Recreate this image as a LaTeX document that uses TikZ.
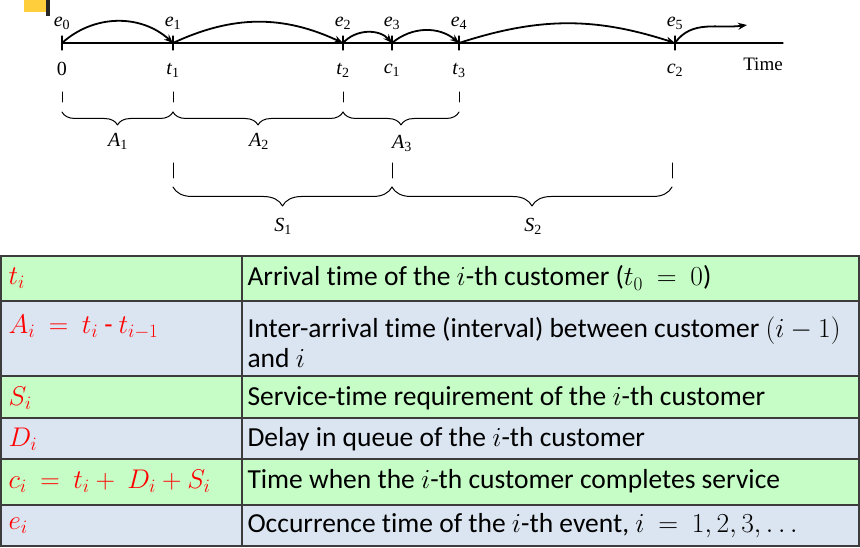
\documentclass[tikz,border=0pt]{standalone}
\usepackage{fix-cm}
\usepackage{fontspec}
\setmainfont{Carlito}[Ligatures=NoCommon]
\newfontfamily\timesfont{Liberation Serif}
\usetikzlibrary{decorations.pathreplacing,arrows.meta}
\definecolor{rowgreen}{RGB}{198,253,198}
\definecolor{rowblue}{RGB}{219,229,241}
\definecolor{gridgray}{RGB}{60,60,60}
\definecolor{tagyellow}{RGB}{255,206,60}
\newcommand{\sub}[1]{\textsubscript{\upshape#1}}
\tikzset{
  hop/.style={-{Stealth[length=9pt,width=7pt]},line width=1.8pt},
  brc/.style={decorate,decoration={brace,mirror,amplitude=#1},line width=1pt},
  bar/.style={line width=1pt},
  lab/.style={font=\fontsize{20}{22}\timesfont\itshape},
  grid/.style={gridgray,line width=1.3pt},
  sym/.style={anchor=west,text=red,font=\fontsize{27}{30}\selectfont},
  cell/.style={anchor=west,align=left,font=\fontsize{27.5}{30}\selectfont},
}
\begin{document}
\begin{tikzpicture}[>=stealth,line join=round,line cap=round,x=1pt,y=-1pt]
\useasboundingbox (0,0) rectangle (860,548);
\fill[tagyellow] (24,0) rectangle (46,12);
\fill[black!85] (46,0) rectangle (50,16);
\draw[line width=1.2pt] (62,43) -- (783,43);
\foreach \n/\x/\t/\s/\e in {0/62/\textup{0}//0,1/173/t/1/1,2/343/t/2/2,3/392/c/1/3,4/459/t/3/4,5/675/c/2/5}{
  \coordinate (p\n) at (\x,43);
  \draw[line width=1.2pt] (\x,36) -- (\x,50);
  \node[lab] (tk\n) at (\x,70) {\t\sub{\s}};
  \node[lab] (ev\n) at (\x,23) {e\sub{\e}};
}
\coordinate (pend) at (747,25);
\node[lab,font=\fontsize{19}{22}\timesfont] (time) at (763,64) {Time};
\draw[hop] (p0) to[bend left=42] (p1);
\draw[hop] (p1) to[bend left=25] (p2);
\draw[hop] (p2) to[bend left=48] (p3);
\draw[hop] (p3) to[bend left=40] (p4);
\draw[hop] (p4) to[bend left=18] (p5);
\draw[hop] (p5) to[out=55,in=188] (pend);
\foreach \x in {62,173,343,459} \draw[bar] (\x,92) -- (\x,102);
\foreach \x in {173,392,672} \draw[bar] (\x,163) -- (\x,178);
\draw[brc=13pt] (62,112) -- (173,112);
\draw[brc=13pt] (173,112) -- (343,112);
\draw[brc=13pt] (343,112) -- (459,112);
\draw[brc=19pt] (173,187) -- (392,187);
\draw[brc=19pt] (392,187) -- (672,187);
\node[lab] (A1) at (118,141) {A\sub{1}};
\node[lab] (A2) at (259,141) {A\sub{2}};
\node[lab] (A3) at (402,143) {A\sub{3}};
\node[lab] (S1) at (283,226) {S\sub{1}};
\node[lab] (S2) at (533,226) {S\sub{2}};
\foreach \top/\bot/\col in {256/301/rowgreen,301/376/rowblue,376/418/rowgreen,418/459/rowblue,459/505/rowgreen,505/546/rowblue}
  \fill[\col] (0,\top) rectangle (860,\bot);
\foreach \y in {256,301,376,418,459,505,546} \draw[grid] (0,\y) -- (860,\y);
\foreach \x in {1,242,859} \draw[grid] (\x,256) -- (\x,546);
\foreach \n/\ys/\yt/\sym/\txt in {
  1/278/278/{t_i}/{Arrival time of the $i$-th customer ($t_0\ =\ 0$)},
  2/327/342/{A_i\ =\ t_i\mbox{ - }t_{i-1}}/{Inter-arrival time (interval) between customer $(i-1)$\\and $i$},
  3/398/398/{S_i}/{Service-time requirement of the $i$-th customer},
  4/439/439/{D_i}/{Delay in queue of the $i$-th customer},
  5/481/481/{c_i\ =\ t_i+\ D_i+S_i}/{Time when the $i$-th customer completes service},
  6/526/526/{e_i}/{Occurrence time of the $i$-th event, $i\ =\ 1,2,3,\ldots$}}{
  \node[sym] (s\n) at (5,\ys) {$\sym$};
  \node[cell] (d\n) at (244,\yt) {\txt};
}
\end{tikzpicture}
\end{document}
